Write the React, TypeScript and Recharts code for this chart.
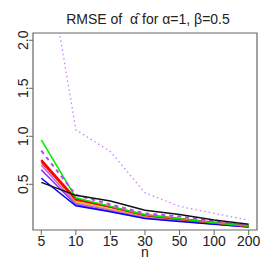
import { LineChart, Line, XAxis, YAxis, ReferenceArea } from "recharts";

const nLabels = ["5", "10", "15", "30", "50", "100", "200"];
const yTicks = [0.5, 1.0, 1.5, 2.0];

const rmseBlack = [0.52, 0.385, 0.325, 0.23, 0.185, 0.127, 0.085];
const rmseBlue = [0.563, 0.276, 0.213, 0.144, 0.112, 0.083, 0.055];
const rmseRed = [0.754, 0.346, 0.266, 0.18, 0.14, 0.1, 0.065];
const rmseRed2 = [0.73, 0.336, 0.26, 0.175, 0.135, 0.097, 0.062];
const rmseGreen = [0.963, 0.36, 0.27, 0.182, 0.14, 0.1, 0.064];
const rmseGold = [0.74, 0.318, 0.24, 0.165, 0.128, 0.092, 0.06];
const rmsePurpleDash = [0.85, 0.39, 0.29, 0.197, 0.165, 0.115, 0.075];
const rmseOrchid = [0.7, 0.3, 0.23, 0.155, 0.12, 0.088, 0.058];
const rmsePurple = [0.65, 0.29, 0.22, 0.15, 0.117, 0.086, 0.056];
const rmseVioletDot = [3.2, 1.068, 0.84, 0.412, 0.27, 0.197, 0.127];

const data = nLabels.map((label, i) => ({
  idx: i + 1,
  label,
  black: rmseBlack[i],
  blue: rmseBlue[i],
  red: rmseRed[i],
  red2: rmseRed2[i],
  green: rmseGreen[i],
  gold: rmseGold[i],
  purpleDash: rmsePurpleDash[i],
  orchid: rmseOrchid[i],
  purple: rmsePurple[i],
  violetDot: rmseVioletDot[i],
}));

const font = "'Liberation Sans', Arial, sans-serif";

function YTick(props: any) {
  const { x, y, payload } = props;
  const bx = x + 1;
  return (
    <text
      x={bx}
      y={y}
      transform={`rotate(-90, ${bx}, ${y})`}
      textAnchor="middle"
      fontSize={14}
      fontFamily={font}
      fill="#222"
    >
      {Number(payload.value).toFixed(1)}
    </text>
  );
}

export default function App() {
  return (
    <div style={{ position: "absolute", left: 0, top: 0, width: 273, height: 273, background: "#fff" }}>
      <div
        style={{
          position: "absolute",
          left: 36,
          top: 12,
          width: 224,
          textAlign: "center",
          fontFamily: font,
          fontSize: 14,
          lineHeight: "14px",
          color: "#222",
          whiteSpace: "pre",
        }}
      >
        {"RMSE of  α\u0302 for α=1, β=0.5"}
      </div>
      <LineChart width={273} height={273} data={data} margin={{ top: 33, right: 16, left: 0, bottom: 0 }}>
        <XAxis
          dataKey="idx"
          type="number"
          domain={[0.76, 7.24]}
          allowDataOverflow
          ticks={[1, 2, 3, 4, 5, 6, 7]}
          tickFormatter={(v) => nLabels[v - 1]}
          height={43}
          tickSize={5}
          tickMargin={1}
          axisLine={false}
          tickLine={{ stroke: "#666" }}
          tick={{ fontSize: 14, fontFamily: font, fill: "#222" }}
          interval={0}
          label={{ value: "n", position: "insideBottom", offset: 16, fontSize: 14, fontFamily: font, fill: "#222" }}
        />
        <YAxis
          type="number"
          domain={[0.024, 2.076]}
          allowDataOverflow
          ticks={yTicks}
          width={33}
          tickSize={4}
          tickMargin={2}
          axisLine={false}
          tickLine={{ stroke: "#666" }}
          tick={<YTick />}
          interval={0}
        />
        <ReferenceArea x1={0.76} x2={7.24} y1={0.024} y2={2.076} fill="none" stroke="#666" strokeWidth={1.2} />
        <Line type="linear" dataKey="gold" stroke="#f0c000" strokeWidth={1.6} dot={false} isAnimationActive={false} />
        <Line type="linear" dataKey="purple" stroke="#9b30ff" strokeWidth={1.5} dot={false} isAnimationActive={false} />
        <Line type="linear" dataKey="orchid" stroke="#c060e0" strokeWidth={1.5} dot={false} isAnimationActive={false} />
        <Line type="linear" dataKey="blue" stroke="#0000ff" strokeWidth={1.5} dot={false} isAnimationActive={false} />
        <Line type="linear" dataKey="red2" stroke="#e02020" strokeWidth={1.5} dot={false} isAnimationActive={false} />
        <Line type="linear" dataKey="red" stroke="#ff0000" strokeWidth={2.2} dot={false} isAnimationActive={false} />
        <Line type="linear" dataKey="green" stroke="#00ee00" strokeWidth={1.5} dot={false} isAnimationActive={false} />
        <Line
          type="linear"
          dataKey="purpleDash"
          stroke="#b44cf0"
          strokeWidth={2}
          strokeDasharray="4 4"
          dot={false}
          isAnimationActive={false}
        />
        <Line type="linear" dataKey="black" stroke="#111" strokeWidth={1.5} dot={false} isAnimationActive={false} />
        <Line
          type="linear"
          dataKey="violetDot"
          stroke="#cc80ff"
          strokeWidth={1.3}
          strokeDasharray="1.5 3"
          dot={false}
          isAnimationActive={false}
        />
      </LineChart>
    </div>
  );
}
